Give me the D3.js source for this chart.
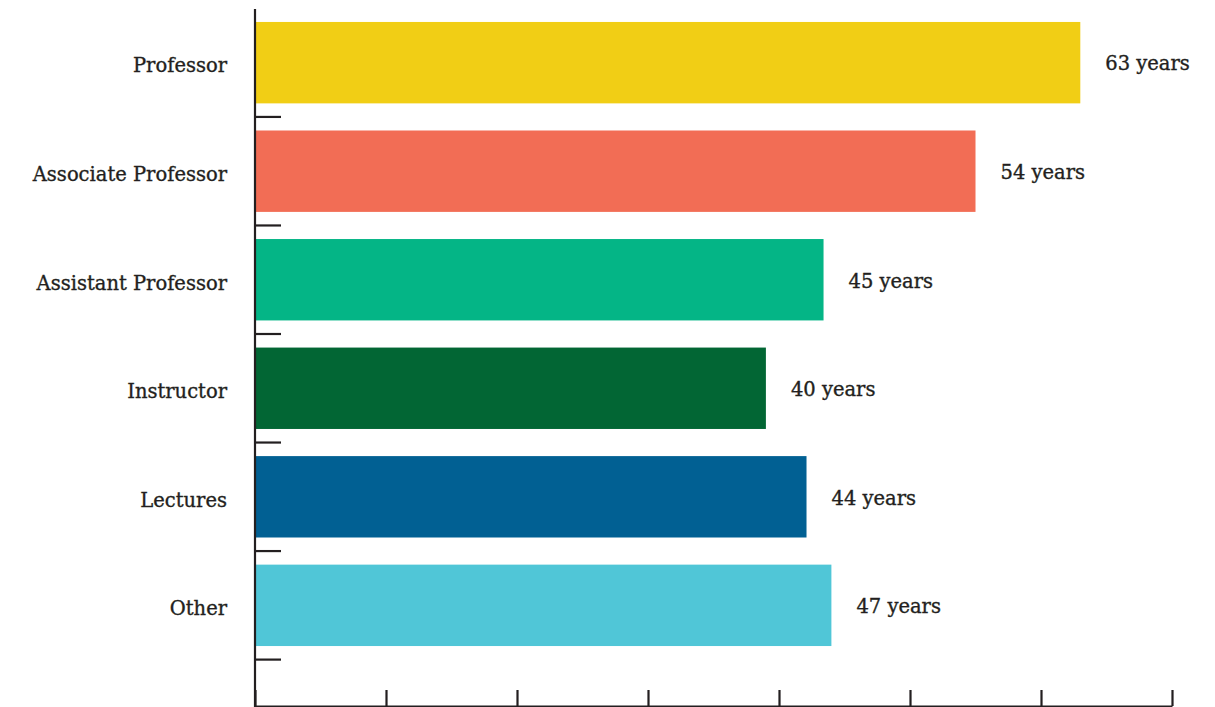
<!DOCTYPE html>
<html>
<head>
<meta charset="utf-8">
<script src="https://cdn.jsdelivr.net/npm/d3@7"></script>
<style>
  html, body { margin: 0; padding: 0; background: #ffffff; }
  svg { display: block; }
</style>
</head>
<body>
<svg id="chart" width="1215" height="707"></svg>
<script>
const categories = ["Professor", "Associate Professor", "Assistant Professor", "Instructor", "Lectures", "Other"];
const values = [63, 55, 43.4, 39, 42.1, 44];
const valueLabels = ["63 years", "54 years", "45 years", "40 years", "44 years", "47 years"];
const colors = ["#F1CE15", "#F26D55", "#04B586", "#026634", "#016093", "#50C6D7"];
const xTicks = [0, 10, 20, 30, 40, 50, 60, 70];

const svg = d3.select("#chart");
const axisColor = "#231F20";
const textColor = "#231F20";
const font = "'DejaVu Serif', serif";

const x = d3.scaleLinear().domain([0, 70]).range([255, 1172]);
const y = d3.scaleBand().domain(categories).range([8.4, 659.6])
  .paddingInner(0.25).paddingOuter(0.125);
const step = y.step();
const axisBottomY = 706;

// bars
svg.append("g").selectAll("rect")
  .data(categories)
  .join("rect")
  .attr("x", x(0))
  .attr("y", d => y(d))
  .attr("width", (d, i) => x(values[i]) - x(0))
  .attr("height", y.bandwidth())
  .attr("fill", (d, i) => colors[i]);

// value labels
svg.append("g").selectAll("text")
  .data(categories)
  .join("text")
  .attr("x", (d, i) => x(values[i]) + 25)
  .attr("y", d => y(d) + y.bandwidth() / 2 + 1)
  .attr("dy", "0.35em")
  .attr("font-family", font)
  .attr("font-size", 19.5)
  .attr("fill", textColor)
  .attr("stroke", textColor)
  .attr("stroke-width", 0.35)
  .text((d, i) => valueLabels[i]);

// category labels
svg.append("g").selectAll("text")
  .data(categories)
  .join("text")
  .attr("x", 227)
  .attr("y", d => y(d) + y.bandwidth() / 2 + 3)
  .attr("dy", "0.35em")
  .attr("text-anchor", "end")
  .attr("font-family", font)
  .attr("font-size", 19.5)
  .attr("fill", textColor)
  .attr("stroke", textColor)
  .attr("stroke-width", 0.35)
  .text(d => d);

// left axis line
svg.append("line")
  .attr("x1", x(0)).attr("x2", x(0))
  .attr("y1", 9).attr("y2", axisBottomY + 1)
  .attr("stroke", axisColor).attr("stroke-width", 2.2);

// left band boundary ticks
svg.append("g").selectAll("line")
  .data(categories)
  .join("line")
  .attr("x1", x(0)).attr("x2", x(0) + 26)
  .attr("y1", d => y(d) + y.bandwidth() + step * 0.125)
  .attr("y2", d => y(d) + y.bandwidth() + step * 0.125)
  .attr("stroke", axisColor).attr("stroke-width", 2.2);

// bottom axis
const gx = svg.append("g")
  .attr("transform", `translate(0,${axisBottomY})`)
  .call(d3.axisBottom(x).tickValues(xTicks).tickSizeInner(-16).tickSizeOuter(0).tickFormat(""));
gx.select(".domain").attr("stroke", axisColor).attr("stroke-width", 2);
gx.selectAll(".tick line").attr("stroke", axisColor).attr("stroke-width", 2.2);
</script>
</body>
</html>
